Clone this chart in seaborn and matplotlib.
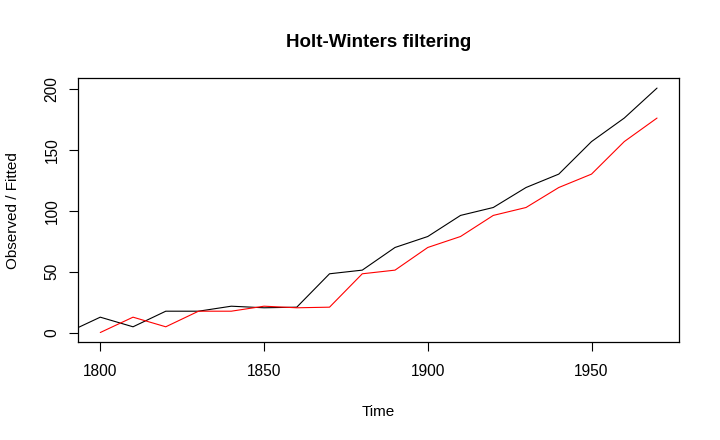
import numpy as np
import pandas as pd
import matplotlib
matplotlib.use("Agg")
import matplotlib.pyplot as plt
import seaborn as sns

# observed series (decennial) and one-step fitted values
obs_years = list(range(1790, 1980, 10))
observed = [0.0, 12.6, 4.7, 17.5, 17.5, 21.6, 20.3, 20.8, 48.2, 51.2,
            69.8, 78.8, 96.1, 102.6, 119.0, 130.0, 156.7, 176.0, 200.6]
fit_years = list(range(1800, 1980, 10))
fitted = [0.0, 12.6, 4.7, 17.5, 17.5, 21.6, 20.3, 20.8, 48.2, 51.2,
          69.8, 78.8, 96.1, 102.6, 119.0, 130.0, 156.7, 176.0]
x_ticks = [1800, 1850, 1900, 1950]
y_ticks = [0, 50, 100, 150, 200]

df = pd.concat([
    pd.DataFrame({"Time": obs_years, "Value": observed, "Series": "Observed"}),
    pd.DataFrame({"Time": fit_years, "Value": fitted, "Series": "Fitted"}),
], ignore_index=True)

sns.set_theme(style="white")
plt.rcParams["font.family"] = ["Liberation Sans", "DejaVu Sans"]

W, H = 720, 440
fig = plt.figure(figsize=(7.2, 4.4), dpi=100)
ax = fig.add_axes([78 / W, 1 - 342.3 / H, (679.3 - 78) / W, (342.3 - 78.3) / H])

sns.lineplot(data=df, x="Time", y="Value", hue="Series",
             hue_order=["Observed", "Fitted"],
             palette={"Observed": "black", "Fitted": "red"},
             linewidth=0.8, legend=False, ax=ax)

# R-style 4% axis extension
x0, x1 = min(fit_years), max(fit_years)
dx = (x1 - x0) * 0.04
ax.set_xlim(x0 - dx, x1 + dx)
y0, y1 = min(observed + fitted), max(observed + fitted)
dy = (y1 - y0) * 0.04
ax.set_ylim(y0 - dy, y1 + dy)

ax.set_xticks(x_ticks)
ax.set_yticks(y_ticks)
ax.set_xlabel("")
ax.set_ylabel("")
for s in ax.spines.values():
    s.set_color("black")
    s.set_linewidth(0.9)
ax.tick_params(axis="both", direction="out", length=6.5, width=0.8,
               color="black", labelsize=11.2, labelcolor="black")
ax.tick_params(axis="x", bottom=True, pad=9)
ax.tick_params(axis="y", left=True, pad=6.8)
for lab in ax.get_yticklabels():
    lab.set_rotation(90)
    lab.set_va("center")

fig.text(378.5 / W, 1 - 46.7 / H, "Holt-Winters filtering", ha="center",
         va="baseline", fontsize=13.5, fontweight="bold", color="black")
fig.text(378 / W, 1 - 415.7 / H, "Time", ha="center", va="baseline",
         fontsize=11, color="black")
fig.text(13 / W, 1 - 211 / H, "Observed / Fitted", rotation=90,
         ha="center", va="center", fontsize=11, color="black")

fig.savefig("out.png", dpi=100, facecolor="white")
